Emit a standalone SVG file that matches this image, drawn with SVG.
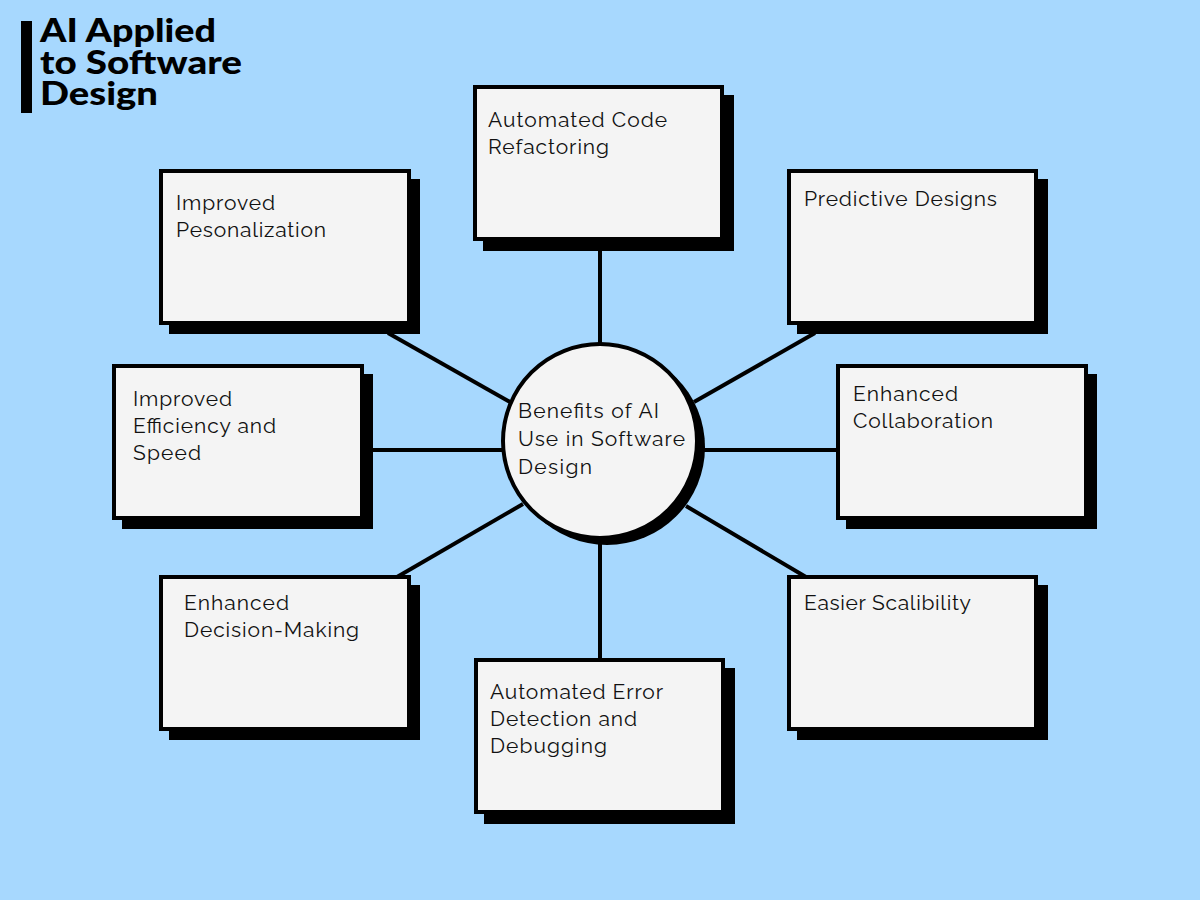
<svg xmlns="http://www.w3.org/2000/svg" width="1200" height="900" viewBox="0 0 1200 900">
<style>
.bg{fill:#a7d8fe}
.sh{fill:#000}
.box{fill:#f4f4f4;stroke:#000;stroke-width:4}
.lbl{font-family:"Raleway","Lato","Open Sans",sans-serif;font-size:21px;fill:#111}
.ttl{font-family:"Lato","Inter",sans-serif;font-weight:900;font-size:33px;fill:#000}
.con{stroke:#000;stroke-width:4;fill:none}
</style>
<rect class="bg" x="0" y="0" width="1200" height="900"/>
<g id="title">
<rect x="21" y="21" width="11" height="92" fill="#000"/>
<text class="ttl" x="40" y="42" textLength="176" lengthAdjust="spacingAndGlyphs">AI Applied</text>
<text class="ttl" x="40" y="74" textLength="202" lengthAdjust="spacingAndGlyphs">to Software</text>
<text class="ttl" x="40" y="105" textLength="118" lengthAdjust="spacingAndGlyphs">Design</text>
</g>
<g id="connectors">
<line class="con" x1="600" y1="239" x2="600" y2="345"/>
<line class="con" x1="600" y1="535" x2="600" y2="660"/>
<line class="con" x1="362" y1="450" x2="505" y2="450"/>
<line class="con" x1="695" y1="450" x2="838" y2="450"/>
<line class="con" x1="388" y1="333" x2="510" y2="402"/>
<line class="con" x1="694" y1="402" x2="815" y2="333"/>
<line class="con" x1="397" y1="577" x2="523" y2="504"/>
<line class="con" x1="686" y1="506" x2="806" y2="577"/>
</g>
<g id="n-refactor">
<rect class="sh" x="483" y="95" width="251" height="156"/>
<rect class="box" x="475" y="87" width="247" height="152"/>
<text class="lbl" x="488" y="127" textLength="179">Automated Code</text>
<text class="lbl" x="488" y="154" textLength="121">Refactoring</text>
</g>
<g id="n-personal">
<rect class="sh" x="169" y="179" width="251" height="155"/>
<rect class="box" x="161" y="171" width="248" height="152"/>
<text class="lbl" x="176" y="210" textLength="99">Improved</text>
<text class="lbl" x="176" y="237" textLength="150">Pesonalization</text>
</g>
<g id="n-predict">
<rect class="sh" x="797" y="179" width="251" height="155"/>
<rect class="box" x="789" y="171" width="247" height="152"/>
<text class="lbl" x="804" y="206" textLength="193">Predictive Designs</text>
</g>
<g id="n-efficiency">
<rect class="sh" x="122" y="374" width="251" height="155"/>
<rect class="box" x="114" y="366" width="248" height="152"/>
<text class="lbl" x="133" y="406" textLength="99">Improved</text>
<text class="lbl" x="133" y="433" textLength="143">Efficiency and</text>
<text class="lbl" x="133" y="460" textLength="68">Speed</text>
</g>
<g id="n-collab">
<rect class="sh" x="846" y="374" width="251" height="155"/>
<rect class="box" x="838" y="366" width="248" height="152"/>
<text class="lbl" x="853" y="401" textLength="105">Enhanced</text>
<text class="lbl" x="853" y="428" textLength="140">Collaboration</text>
</g>
<g id="n-decision">
<rect class="sh" x="169" y="585" width="251" height="155"/>
<rect class="box" x="161" y="577" width="248" height="152"/>
<text class="lbl" x="184" y="610" textLength="105">Enhanced</text>
<text class="lbl" x="184" y="637" textLength="175">Decision-Making</text>
</g>
<g id="n-scale">
<rect class="sh" x="797" y="585" width="251" height="155"/>
<rect class="box" x="789" y="577" width="247" height="152"/>
<text class="lbl" x="804" y="610" textLength="167">Easier Scalibility</text>
</g>
<g id="n-debug">
<rect class="sh" x="484" y="668" width="251" height="156"/>
<rect class="box" x="476" y="660" width="247" height="152"/>
<text class="lbl" x="490" y="699" textLength="173">Automated Error</text>
<text class="lbl" x="490" y="726" textLength="147">Detection and</text>
<text class="lbl" x="490" y="753" textLength="117">Debugging</text>
</g>
<g id="n-center">
<circle cx="607" cy="447" r="98" fill="#000"/>
<circle cx="600" cy="441" r="97" fill="#f4f4f4" stroke="#000" stroke-width="4"/>
<text class="lbl" x="518" y="418" textLength="141">Benefits of AI</text>
<text class="lbl" x="518" y="446" textLength="167">Use in Software</text>
<text class="lbl" x="518" y="474" textLength="74">Design</text>
</g>
</svg>
